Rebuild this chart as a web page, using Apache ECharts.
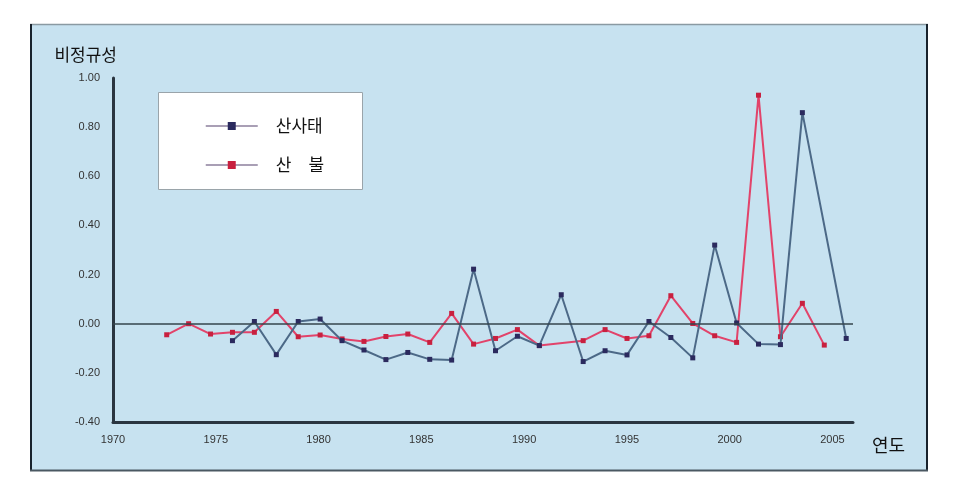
<!DOCTYPE html>
<html>
<head>
<meta charset="utf-8">
<script src="https://cdn.jsdelivr.net/npm/echarts@6/dist/echarts.min.js"></script>
<style>
html,body{margin:0;padding:0;background:#ffffff;}
#chart{width:957px;height:500px;}
</style>
</head>
<body>
<div id="chart"></div>
<script>
// ---- data ----
const fireYears = [1973,1974,1975,1976,1977,1978,1979,1980,1981,1982,1983,1984,1985,1986,1987,1988,1989,1990,1991,1992,1993,1994,1995,1996,1997,1998,1999,2000,2001,2002,2003];
const fireValues = [-0.045,0.00,-0.042,-0.035,-0.035,0.05,-0.053,-0.046,-0.062,-0.072,-0.052,-0.042,-0.076,0.042,-0.083,-0.06,-0.024,-0.089,null,-0.069,-0.024,-0.06,-0.049,0.114,0.001,-0.049,-0.076,0.93,-0.053,0.083,-0.087];
const slideYears = [1976,1977,1978,1979,1980,1981,1982,1983,1984,1985,1986,1987,1988,1989,1990,1991,1992,1993,1994,1995,1996,1997,1998,1999,2000,2001,2002,2003,2004];
const slideValues = [-0.069,0.009,-0.126,0.009,0.019,-0.069,-0.107,-0.146,-0.117,-0.145,-0.148,0.222,-0.11,-0.051,-0.089,0.118,-0.154,-0.11,-0.127,0.009,-0.056,-0.139,0.32,0.003,-0.083,-0.085,0.859,null,-0.06];
const seriesNames = ['산사태', '산\u3000불'];
const yTitle = '비정규성';
const xTitle = '연도';
const xTickStart = 1970, xTickEnd = 2006, xTickStep = 5;
const yMin = -0.4, yMax = 1.0, yStep = 0.2;

const toPairs = (xs, vs) => xs.map((x, i) => [x, vs[i]]);

const chart = echarts.init(document.getElementById('chart'));
const numFont = 'Liberation Sans, Arial, sans-serif';
const krFont = 'Noto Sans CJK KR, sans-serif';

chart.setOption({
  animation: false,
  backgroundColor: '#ffffff',
  graphic: [
    { type: 'rect', z: -10, shape: { x: 30, y: 24, width: 898, height: 447 }, style: { fill: '#c7e2f0', stroke: null } },
    { type: 'line', z: -9, shape: { x1: 30, y1: 24.5, x2: 928, y2: 24.5 }, style: { stroke: '#8a9aa2', lineWidth: 1.5 } },
    { type: 'line', z: -9, shape: { x1: 31, y1: 24, x2: 31, y2: 471 }, style: { stroke: '#18222c', lineWidth: 2 } },
    { type: 'line', z: -9, shape: { x1: 927, y1: 24, x2: 927, y2: 471 }, style: { stroke: '#18222c', lineWidth: 2 } },
    { type: 'line', z: -9, shape: { x1: 30, y1: 470.5, x2: 928, y2: 470.5 }, style: { stroke: '#4a5862', lineWidth: 2 } },
    { type: 'rect', z: 1, shape: { x: 158.5, y: 92.5, width: 204, height: 97 }, style: { fill: '#ffffff', stroke: '#9aa4aa', lineWidth: 1 } }
  ],
  legend: {
    z: 5,
    orient: 'vertical',
    left: 200,
    top: 111,
    itemWidth: 52,
    itemHeight: 10,
    itemGap: 19,
    data: seriesNames,
    lineStyle: { color: '#8c7f9c', width: 1.5 },
    textStyle: { fontFamily: krFont, fontSize: 17, color: '#111', lineHeight: 20, padding: [0, 0, 0, 13] }
  },
  grid: { left: 113, top: 78, width: 740, height: 344, containLabel: false },
  xAxis: [
    {
      type: 'value', min: xTickStart, max: xTickEnd, interval: xTickStep,
      name: xTitle, nameLocation: 'end', nameGap: 19,
      nameTextStyle: { fontFamily: krFont, fontSize: 18, color: '#111', verticalAlign: 'top', lineHeight: 46 },
      axisLine: { show: true, onZero: false, lineStyle: { color: '#2a3540', width: 3 } },
      axisTick: { show: false },
      splitLine: { show: false },
      axisLabel: { margin: 12, fontFamily: numFont, fontSize: 11, color: '#333', showMaxLabel: false, formatter: v => String(v) }
    },
    {
      type: 'value', min: 1970.55, max: 2004.31, show: false,
      axisLine: { onZero: false },
      splitLine: { show: false }
    }
  ],
  yAxis: {
    type: 'value', min: yMin, max: yMax, interval: yStep,
    name: yTitle, nameLocation: 'end', nameGap: 15,
    nameTextStyle: { fontFamily: krFont, fontSize: 17, color: '#111', align: 'right', padding: [0, -4, 0, 0] },
    axisLine: { show: true, onZero: false, lineStyle: { color: '#2a3540', width: 3 } },
    axisTick: { show: false },
    splitLine: { show: false },
    axisLabel: { margin: 13, fontFamily: numFont, fontSize: 11, color: '#333', formatter: v => v.toFixed(2) }
  },
  series: [
    {
      name: seriesNames[0], type: 'line', xAxisIndex: 1, z: 3,
      data: toPairs(slideYears, slideValues), connectNulls: true,
      symbol: 'rect', symbolSize: 5,
      itemStyle: { color: '#2b2a5e' },
      lineStyle: { color: '#4c6987', width: 2 },
      markLine: {
        silent: true, symbol: 'none', label: { show: false },
        lineStyle: { color: '#34444c', width: 1.5, type: 'solid' },
        data: [{ yAxis: 0 }]
      }
    },
    {
      name: seriesNames[1], type: 'line', xAxisIndex: 1, z: 2,
      data: toPairs(fireYears, fireValues), connectNulls: true,
      symbol: 'rect', symbolSize: 5,
      itemStyle: { color: '#c8203f' },
      lineStyle: { color: '#e2436a', width: 2 }
    }
  ]
});
</script>
</body>
</html>
